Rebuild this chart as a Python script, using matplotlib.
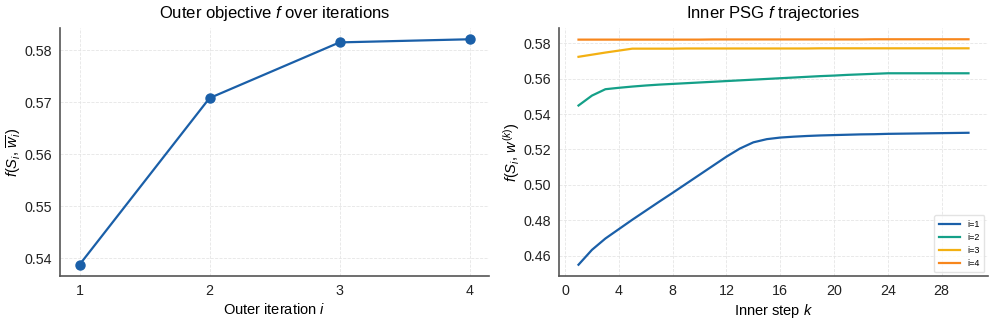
import matplotlib
matplotlib.use("Agg")
import matplotlib.pyplot as plt
import numpy as np

plt.rcParams['font.family'] = ['Liberation Sans', 'DejaVu Sans']
plt.rcParams['mathtext.fontset'] = 'custom'
plt.rcParams['mathtext.it'] = 'Liberation Sans:italic'
plt.rcParams['mathtext.rm'] = 'Liberation Sans'
plt.rcParams['mathtext.bf'] = 'Liberation Sans:bold'

outer_iter = [1, 2, 3, 4]
outer_f = [0.5388, 0.5708, 0.5815, 0.5821]

inner_steps = list(range(1, 31))
inner_i1 = [0.4549, 0.4633, 0.4697, 0.4750, 0.4803, 0.4854, 0.4905, 0.4955, 0.5006, 0.5057,
            0.5108, 0.5159, 0.5205, 0.5240, 0.5258, 0.5267, 0.5272, 0.5276, 0.5279, 0.5281,
            0.5283, 0.5285, 0.5286, 0.5288, 0.5289, 0.5290, 0.5291, 0.5292, 0.5293, 0.5294]
inner_i2 = [0.5448, 0.5504, 0.5540, 0.5548, 0.5555, 0.5561, 0.5566, 0.5570, 0.5574, 0.5578,
            0.5582, 0.5586, 0.5590, 0.5594, 0.5598, 0.5602, 0.5606, 0.5610, 0.5614, 0.5617,
            0.5621, 0.5624, 0.5627, 0.5630, 0.5630, 0.5630, 0.5630, 0.5630, 0.5630, 0.5630]
inner_i3 = [0.5723, 0.5735, 0.5747, 0.5758, 0.5769, 0.5769, 0.5769, 0.5769, 0.5770, 0.5770,
            0.5770, 0.5770, 0.5770, 0.5770, 0.5770, 0.5770, 0.5770, 0.5770, 0.5771, 0.5771,
            0.5771, 0.5771, 0.5771, 0.5771, 0.5771, 0.5771, 0.5771, 0.5771, 0.5771, 0.5771]
inner_i4 = [0.5820, 0.5820, 0.5820, 0.5820, 0.5820, 0.5820, 0.5820, 0.5820, 0.5820, 0.5820,
            0.5821, 0.5821, 0.5821, 0.5821, 0.5821, 0.5821, 0.5821, 0.5821, 0.5821, 0.5821,
            0.5821, 0.5821, 0.5822, 0.5822, 0.5822, 0.5822, 0.5822, 0.5822, 0.5822, 0.5822]
labels = ['i=1', 'i=2', 'i=3', 'i=4']
colors = ['#1a5fa8', '#14a088', '#f3b012', '#f7861c']

fig = plt.figure(figsize=(9.96, 3.25), dpi=100)
ax1 = fig.add_axes([60/996, 1-276/325, 429/996, 248/325])
ax2 = fig.add_axes([559/996, 1-276/325, 429/996, 248/325])

def style(ax):
    ax.grid(True, color='#e3e3e3', linestyle='--', linewidth=0.6, alpha=0.9)
    ax.set_axisbelow(True)
    for s in ['top', 'right']:
        ax.spines[s].set_visible(False)
    for s in ['left', 'bottom']:
        ax.spines[s].set_color('#555555')
        ax.spines[s].set_linewidth(1.2)
    ax.tick_params(labelsize=10.3, length=0, pad=6, colors='#222222')

ax1.plot(outer_iter, outer_f, color=colors[0], marker='o', markersize=6.5, linewidth=1.6)
ax1.set_xticks(outer_iter)
ax1.set_yticks([0.54, 0.55, 0.56, 0.57, 0.58])
ax1.set_title('Outer objective $f$ over iterations', fontsize=12, pad=7)
ax1.set_xlabel('Outer iteration $i$', fontsize=10.5, labelpad=3)
ax1.set_ylabel(r'$f(S_i,\, \overline{w}_i)$', fontsize=10.5, labelpad=1)
style(ax1)

for vals, lab, c in zip([inner_i1, inner_i2, inner_i3, inner_i4], labels, colors):
    ax2.plot(inner_steps, vals, color=c, linewidth=1.6, label=lab)
ax2.set_xticks(range(0, 29, 4))
ax2.set_yticks([0.46, 0.48, 0.50, 0.52, 0.54, 0.56, 0.58])
ax2.set_title('Inner PSG $f$ trajectories', fontsize=12, pad=7)
ax2.set_xlabel('Inner step $k$', fontsize=10.5, labelpad=3)
ax2.set_ylabel(r'$f(S_i,\, w^{(k)})$', fontsize=10.5, labelpad=1)
style(ax2)
leg = ax2.legend(loc='lower right', fontsize=6.5, frameon=True, handlelength=2.4,
                 borderpad=0.5, labelspacing=0.45, borderaxespad=0.4)
leg.get_frame().set_edgecolor('#dddddd')

fig.savefig('out.png', dpi=100)
